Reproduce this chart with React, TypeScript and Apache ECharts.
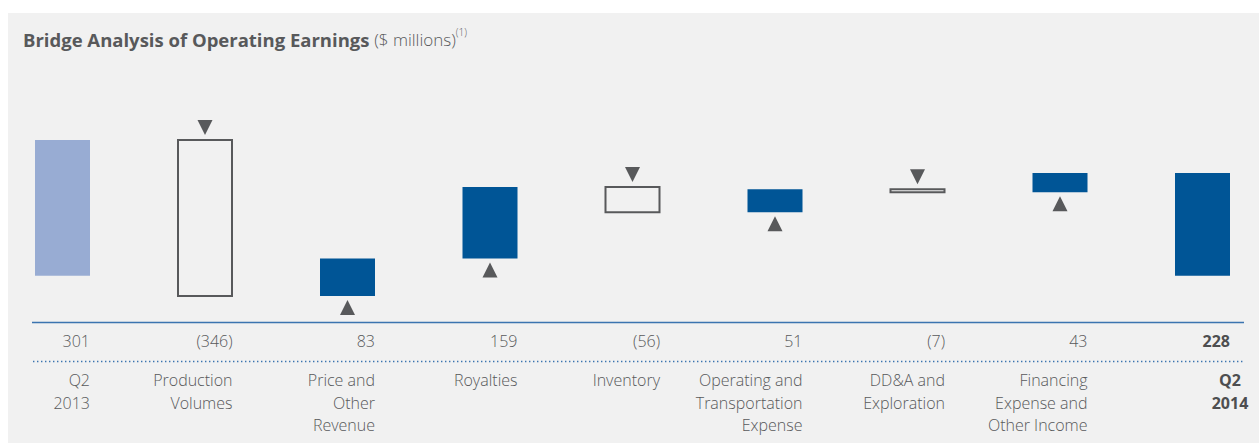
import React, { useEffect, useRef } from "react";
import * as echarts from "echarts";

const categories: string[] = [
  "Q2\n2013",
  "Production\nVolumes",
  "Price and\nOther\nRevenue",
  "Royalties",
  "Inventory",
  "Operating and\nTransportation\nExpense",
  "DD&A and\nExploration",
  "Financing\nExpense and\nOther Income",
  "Q2\n2014",
];
const values: number[] = [301, -346, 83, 159, -56, 51, -7, 43, 228];
const kinds: string[] = ["start", "change", "change", "change", "change", "change", "change", "change", "end"];

const TEXT = "#58595b";
const DARK_BLUE = "#005596";
const LIGHT_BLUE = "#98acd3";
const OUTLINE = "#58595b";
const BG = "#f1f1f1";
const LINE_BLUE = "#3b74b0";
const FONT = '"Open Sans", "Noto Sans", sans-serif';

function fmt(v: number): string {
  return v < 0 ? `(${Math.abs(v)})` : `${v}`;
}

export default function App() {
  const ref = useRef<HTMLDivElement>(null);

  useEffect(() => {
    if (!ref.current) return;
    const chart = echarts.init(ref.current, undefined, { renderer: "svg" });

    // waterfall ranges built from the deltas
    let cum = 0;
    const rows = values.map((v, i) => {
      let low = 0;
      let high = 0;
      if (kinds[i] === "change") {
        low = Math.min(cum, cum + v);
        high = Math.max(cum, cum + v);
        cum += v;
      } else {
        low = Math.min(0, v);
        high = Math.max(0, v);
        cum = v;
      }
      return [i, low, high, v, kinds[i] === "start" ? 0 : kinds[i] === "end" ? 2 : 1];
    });

    const gridTop = 95.4;
    const gridHeight = 225.4;

    const option: any = {
      animation: false,
      backgroundColor: "#ffffff",
      textStyle: { fontFamily: FONT },
      title: {
        left: 18,
        top: 22,
        text: "{b|Bridge Analysis of Operating Earnings} {n|($ millions)}{s|(1)}",
        textStyle: {
          rich: {
            b: { fontFamily: FONT, fontSize: 18.5, fontWeight: "bold", color: TEXT, lineHeight: 24 },
            n: { fontFamily: FONT, fontSize: 17, fontWeight: 300, color: TEXT, lineHeight: 24 },
            s: { fontFamily: FONT, fontSize: 10, fontWeight: 300, color: TEXT, lineHeight: 24, verticalAlign: "top", padding: [0, 0, 6, 0] },
          },
        },
      },
      graphic: [
        {
          type: "rect",
          z: -10,
          silent: true,
          shape: { x: 8, y: 13, width: 1251, height: 430 },
          style: { fill: BG },
        },
        {
          type: "line",
          silent: true,
          shape: { x1: 32, y1: 322.5, x2: 1244, y2: 322.5 },
          style: { stroke: LINE_BLUE, lineWidth: 1.5 },
        },
        {
          type: "line",
          silent: true,
          shape: { x1: 33, y1: 361.5, x2: 1244, y2: 361.5 },
          style: { stroke: LINE_BLUE, lineWidth: 1.5, lineDash: [1.4, 2.6] },
        },
      ],
      grid: [
        { left: 62.5, width: 1140, top: gridTop, height: gridHeight },
        { left: 90, width: 1140, top: gridTop, height: gridHeight },
      ],
      xAxis: [
        {
          type: "category",
          gridIndex: 0,
          data: categories,
          boundaryGap: false,
          show: false,
        },
        {
          type: "category",
          gridIndex: 1,
          data: categories,
          boundaryGap: false,
          position: "bottom",
          axisLine: { show: false },
          axisTick: { show: false },
          splitLine: { show: false },
          axisLabel: {
            interval: 0,
            align: "right",
            margin: 9,
            fontSize: 16,
            fontWeight: 300,
            lineHeight: 22,
            color: TEXT,
            fontFamily: FONT,
            formatter: (_v: string, i: number) =>
              kinds[i] === "end" ? `{b|${fmt(values[i])}}` : fmt(values[i]),
            rich: {
              b: { fontSize: 16, fontWeight: "bold", color: "#4d4e50", fontFamily: FONT, lineHeight: 22 },
            },
          },
        },
        {
          type: "category",
          gridIndex: 1,
          data: categories.map((c, i) =>
            kinds[i] === "end" ? { value: c, textStyle: { fontWeight: "bold", color: "#4d4e50" } } : c
          ),
          boundaryGap: false,
          position: "bottom",
          offset: 40,
          axisLine: { show: false },
          axisTick: { show: false },
          splitLine: { show: false },
          axisLabel: {
            interval: 0,
            align: "right",
            margin: 8,
            fontSize: 16,
            fontWeight: 300,
            lineHeight: 22.5,
            color: TEXT,
            fontFamily: FONT,
          },
        },
      ],
      yAxis: [
        { type: "value", gridIndex: 0, min: -100, max: 400, show: false },
        { type: "value", gridIndex: 1, min: -100, max: 400, show: false },
      ],
      series: [
        {
          type: "custom",
          xAxisIndex: 0,
          yAxisIndex: 0,
          clip: false,
          encode: { x: 0, y: [1, 2] },
          data: rows,
          renderItem: (_params: any, api: any) => {
            const i = api.value(0);
            const low = api.value(1);
            const high = api.value(2);
            const v = api.value(3);
            const kind = api.value(4);
            const topP = api.coord([i, high]);
            const botP = api.coord([i, low]);
            const cx = topP[0];
            const top = topP[1];
            const bot = botP[1];
            const children: any[] = [];
            if (kind === 1 && v < 0) {
              children.push({
                type: "rect",
                shape: { x: cx - 27, y: top, width: 54, height: Math.max(bot - top, 1) },
                style: { fill: "none", stroke: OUTLINE, lineWidth: 2 },
              });
              children.push({
                type: "polygon",
                shape: { points: [[cx - 7.5, top - 20], [cx + 7.5, top - 20], [cx, top - 5]] },
                style: { fill: OUTLINE },
              });
            } else {
              children.push({
                type: "rect",
                shape: { x: cx - 27.5, y: top, width: 55, height: bot - top },
                style: { fill: kind === 0 ? LIGHT_BLUE : DARK_BLUE },
              });
              if (kind === 1) {
                children.push({
                  type: "polygon",
                  shape: { points: [[cx, bot + 4], [cx - 7.5, bot + 19], [cx + 7.5, bot + 19]] },
                  style: { fill: OUTLINE },
                });
              }
            }
            return { type: "group", children };
          },
        },
      ],
    };

    chart.setOption(option);
    return () => chart.dispose();
  }, []);

  return (
    <div
      ref={ref}
      style={{ position: "fixed", left: 0, top: 0, width: 1259, height: 443 }}
    />
  );
}
